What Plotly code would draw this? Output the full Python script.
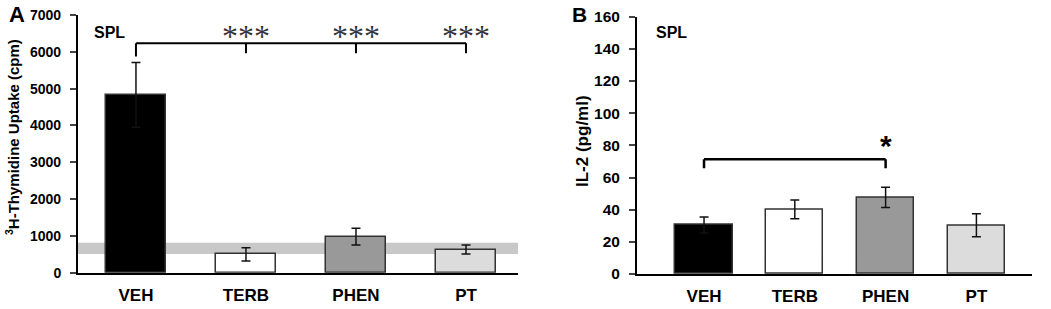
import plotly.graph_objects as go

# ---------------- data ----------------
groups = ["VEH", "TERB", "PHEN", "PT"]
bar_colors = ["#000000", "#ffffff", "#999999", "#dcdcdc"]

# Panel A: 3H-Thymidine uptake (cpm)
thym_mean = [4830, 500, 980, 630]
thym_err = [880, 180, 230, 120]
thym_band = [510, 815]          # grey reference band
thym_bracket_top = 6230
thym_bracket_tick = [5870, 5960, 5960, 5960]
thym_sig = ["", "***", "***", "***"]
thym_ticks = [0, 1000, 2000, 3000, 4000, 5000, 6000, 7000]

# Panel B: IL-2 (pg/ml)
il2_mean = [30.5, 40.2, 47.7, 30.3]
il2_err = [5.0, 5.8, 6.3, 7.2]
il2_bracket_top = 71.3
il2_bracket_tick = [65.7, 65.7]
il2_bracket_groups = [0, 2]
il2_sig = "*"
il2_ticks = [0, 20, 40, 60, 80, 100, 120, 140, 160]

FONT = "Liberation Sans, Arial, sans-serif"

fig = go.Figure()

fig.add_trace(go.Bar(
    x=list(range(len(groups))), y=thym_mean,
    width=0.54,
    marker=dict(color=bar_colors, line=dict(color="#333333", width=1.5)),
    error_y=dict(type="data", array=thym_err, color="#111111", thickness=1.5, width=4.5),
    xaxis="x", yaxis="y", showlegend=False,
))
fig.add_trace(go.Bar(
    x=list(range(len(groups))), y=il2_mean,
    width=0.63,
    marker=dict(color=bar_colors, line=dict(color="#333333", width=1.5)),
    error_y=dict(type="data", array=il2_err, color="#111111", thickness=1.5, width=4.5),
    xaxis="x2", yaxis="y2", showlegend=False,
))

ax_common = dict(showgrid=False, zeroline=False, showline=True, linecolor="black", linewidth=2)

fig.update_layout(
    width=1051, height=309,
    margin=dict(l=0, r=0, t=0, b=0),
    paper_bgcolor="white", plot_bgcolor="white",
    font=dict(family=FONT, color="black"),
    xaxis=dict(domain=[0.0742, 0.4929], range=[-0.527, 3.473],
               tickvals=list(range(len(groups))), ticktext=[f"<b>{g}</b>" for g in groups],
               tickfont=dict(size=17), ticks="", ticklabelstandoff=6,
               anchor="y", automargin=False, **ax_common),
    yaxis=dict(domain=[0.1175, 0.9515], range=[0, 7000], tickvals=thym_ticks,
               ticktext=[f"<b>{t}</b>" for t in thym_ticks],
               tickfont=dict(size=14), ticks="outside", ticklen=6, tickwidth=2,
               ticklabelstandoff=6, anchor="x", automargin=False, **ax_common),
    xaxis2=dict(domain=[0.6061, 0.9819], range=[-0.738, 3.612],
                tickvals=list(range(len(groups))), ticktext=[f"<b>{g}</b>" for g in groups],
                tickfont=dict(size=17), ticks="", ticklabelstandoff=6,
                anchor="y2", automargin=False, **ax_common),
    yaxis2=dict(domain=[0.1133, 0.946], range=[0, 160], tickvals=il2_ticks,
                ticktext=[f"<b>{t}</b>" for t in il2_ticks],
                tickfont=dict(size=15.5), ticks="outside", ticklen=6, tickwidth=2,
                ticklabelstandoff=6, anchor="x2", automargin=False, **ax_common),
    bargap=0,
)

shapes = []
# grey band (panel A) behind bars
shapes.append(dict(type="rect", xref="x domain", yref="y", x0=0, x1=1,
                   y0=thym_band[0], y1=thym_band[1], fillcolor="#c8c8c8",
                   line=dict(width=0), layer="below"))
# bracket panel A
shapes.append(dict(type="line", xref="x", yref="y", x0=0, x1=len(groups) - 1,
                   y0=thym_bracket_top, y1=thym_bracket_top, line=dict(color="black", width=2)))
for i, yt in enumerate(thym_bracket_tick):
    shapes.append(dict(type="line", xref="x", yref="y", x0=i, x1=i,
                       y0=yt, y1=thym_bracket_top, line=dict(color="black", width=2)))
# bracket panel B
shapes.append(dict(type="line", xref="x2", yref="y2", x0=il2_bracket_groups[0], x1=il2_bracket_groups[1],
                   y0=il2_bracket_top, y1=il2_bracket_top, line=dict(color="black", width=2.5)))
for g, yt in zip(il2_bracket_groups, il2_bracket_tick):
    shapes.append(dict(type="line", xref="x2", yref="y2", x0=g, x1=g,
                       y0=yt, y1=il2_bracket_top, line=dict(color="black", width=2.5)))
fig.update_layout(shapes=shapes)

ann = []
for i, s in enumerate(thym_sig):
    if s:
        ann.append(dict(xref="x", yref="y", x=i, y=thym_bracket_top, yshift=-13,
                        text=s, showarrow=False, yanchor="bottom",
                        font=dict(family="Liberation Serif, Times New Roman, serif", size=32, color="#333333")))
ann.append(dict(xref="x2", yref="y2", x=il2_bracket_groups[1], y=il2_bracket_top, yshift=-5,
                text=f"<b>{il2_sig}</b>", showarrow=False, yanchor="bottom",
                font=dict(size=30)))
# SPL labels
ann.append(dict(xref="paper", yref="paper", x=92 / 1051, y=1 - 33 / 309, xanchor="left", yanchor="middle",
                text="<b>SPL</b>", showarrow=False, font=dict(size=16)))
ann.append(dict(xref="paper", yref="paper", x=654 / 1051, y=1 - 33 / 309, xanchor="left", yanchor="middle",
                text="<b>SPL</b>", showarrow=False, font=dict(size=16)))
# panel letters
ann.append(dict(xref="paper", yref="paper", x=7 / 1051, y=1 - 14 / 309, xanchor="left", yanchor="middle",
                text="<b>A</b>", showarrow=False, font=dict(size=22)))
ann.append(dict(xref="paper", yref="paper", x=570 / 1051, y=1 - 14 / 309, xanchor="left", yanchor="middle",
                text="<b>B</b>", showarrow=False, font=dict(size=21)))
# y titles
ann.append(dict(xref="paper", yref="paper", x=13 / 1051, y=1 - 137 / 309, xanchor="center", yanchor="middle",
                text="<b><sup>3</sup>H-Thymidine Uptake (cpm)</b>", showarrow=False, textangle=-90,
                font=dict(size=15)))
ann.append(dict(xref="paper", yref="paper", x=582 / 1051, y=1 - 141 / 309, xanchor="center", yanchor="middle",
                text="<b>IL-2 (pg/ml)</b>", showarrow=False, textangle=-90,
                font=dict(size=17)))
fig.update_layout(annotations=ann)

fig.write_html("out.html", config={"displayModeBar": False},
               post_script="document.body.style.margin='0';document.body.style.overflow='hidden';")
